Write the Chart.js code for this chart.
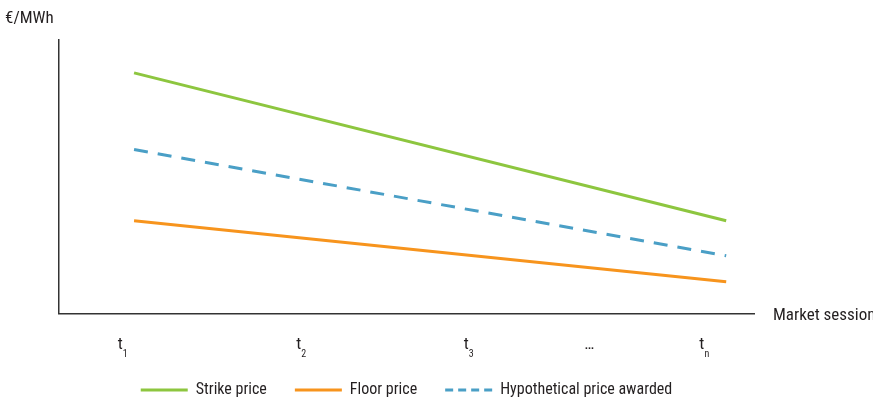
<!DOCTYPE html>
<html>
<head>
<meta charset="utf-8">
<script src="https://cdn.jsdelivr.net/npm/chart.js@4/dist/chart.umd.min.js"></script>
<style>
  html, body { margin: 0; padding: 0; background: #fff; }
  #wrap { width: 873px; height: 403px; position: relative; }
</style>
</head>
<body>
<div id="wrap"><canvas id="chart"></canvas></div>
<script>
// x runs 0..100 along the session axis, y 0..100 along the price axis
const lineX = [10.8, 96];
const strikePrice = [88, 34];
const floorPrice = [34, 11.7];
const awardedPrice = [60, 21.2];

const tickPos = [8.8, 34.5, 58.6, 76.3, 92.5];
const tickMain = ['t', 't', 't', '…', 't'];
const tickSub = ['1', '2', '3', '', 'n'];

const FONT = '"Liberation Sans Narrow", "Roboto Condensed", Roboto, sans-serif';
const TEXT = '#231f20';

const toPoints = ys => ys.map((y, i) => ({ x: lineX[i], y: y }));

const axisText = {
  id: 'axisText',
  afterDraw(chart) {
    const ctx = chart.ctx;
    const area = chart.chartArea;
    const xs = chart.scales.x;
    ctx.save();
    ctx.fillStyle = TEXT;
    ctx.textBaseline = 'alphabetic';

    ctx.font = '17px ' + FONT;
    ctx.textAlign = 'left';
    ctx.fillText('€/MWh', 5, 23);
    ctx.fillText('Market sessions', area.right + 19, area.bottom + 6);

    tickPos.forEach((v, i) => {
      const px = xs.getPixelForValue(v);
      ctx.font = '17px ' + FONT;
      ctx.textAlign = 'center';
      ctx.fillText(tickMain[i], px, 349);
      if (tickSub[i]) {
        const w = ctx.measureText(tickMain[i]).width;
        ctx.font = '10px ' + FONT;
        ctx.textAlign = 'left';
        ctx.fillText(tickSub[i], px + w / 2, 357);
      }
    });
    ctx.restore();
  }
};

new Chart(document.getElementById('chart'), {
  type: 'line',
  data: {
    datasets: [
      {
        label: 'Strike price',
        data: toPoints(strikePrice),
        borderColor: '#8dc63f',
        backgroundColor: '#8dc63f',
        borderWidth: 3,
        pointRadius: 0,
        fill: false
      },
      {
        label: 'Floor price',
        data: toPoints(floorPrice),
        borderColor: '#f7941d',
        backgroundColor: '#f7941d',
        borderWidth: 3,
        pointRadius: 0,
        fill: false
      },
      {
        label: 'Hypothetical price awarded',
        data: toPoints(awardedPrice),
        borderColor: '#4a9fc6',
        backgroundColor: '#4a9fc6',
        borderWidth: 3,
        borderDash: [14, 10],
        pointRadius: 0,
        fill: false
      }
    ]
  },
  options: {
    responsive: true,
    maintainAspectRatio: false,
    animation: false,
    layout: {
      padding: { left: 59, right: 119, top: 40, bottom: -5 }
    },
    scales: {
      x: {
        type: 'linear',
        min: 0,
        max: 100,
        grid: { display: false, drawTicks: false },
        ticks: { display: false },
        border: { display: true, color: '#333', width: 1.5 }
      },
      y: {
        min: 0,
        max: 100,
        grid: { display: false, drawTicks: false },
        ticks: { display: false },
        border: { display: true, color: '#333', width: 1.5 }
      }
    },
    plugins: {
      tooltip: { enabled: false },
      legend: {
        position: 'bottom',
        title: { display: true, text: ' ', padding: { top: 13, bottom: 8 }, font: { size: 16 } },
        labels: {
          usePointStyle: true,
          pointStyle: 'line',
          pointStyleWidth: 47,
          boxHeight: 3,
          padding: 28,
          color: TEXT,
          font: { family: FONT, size: 16 },
          generateLabels(chart) {
            const items = Chart.defaults.plugins.legend.labels.generateLabels(chart);
            items.forEach(it => {
              const ds = chart.data.datasets[it.datasetIndex];
              // shorter dashes in the legend sample, as in the original
              it.lineDash = ds.borderDash ? [8, 5] : [];
              it.lineWidth = 3;
            });
            return items;
          }
        }
      }
    }
  },
  plugins: [axisText]
});
</script>
</body>
</html>
